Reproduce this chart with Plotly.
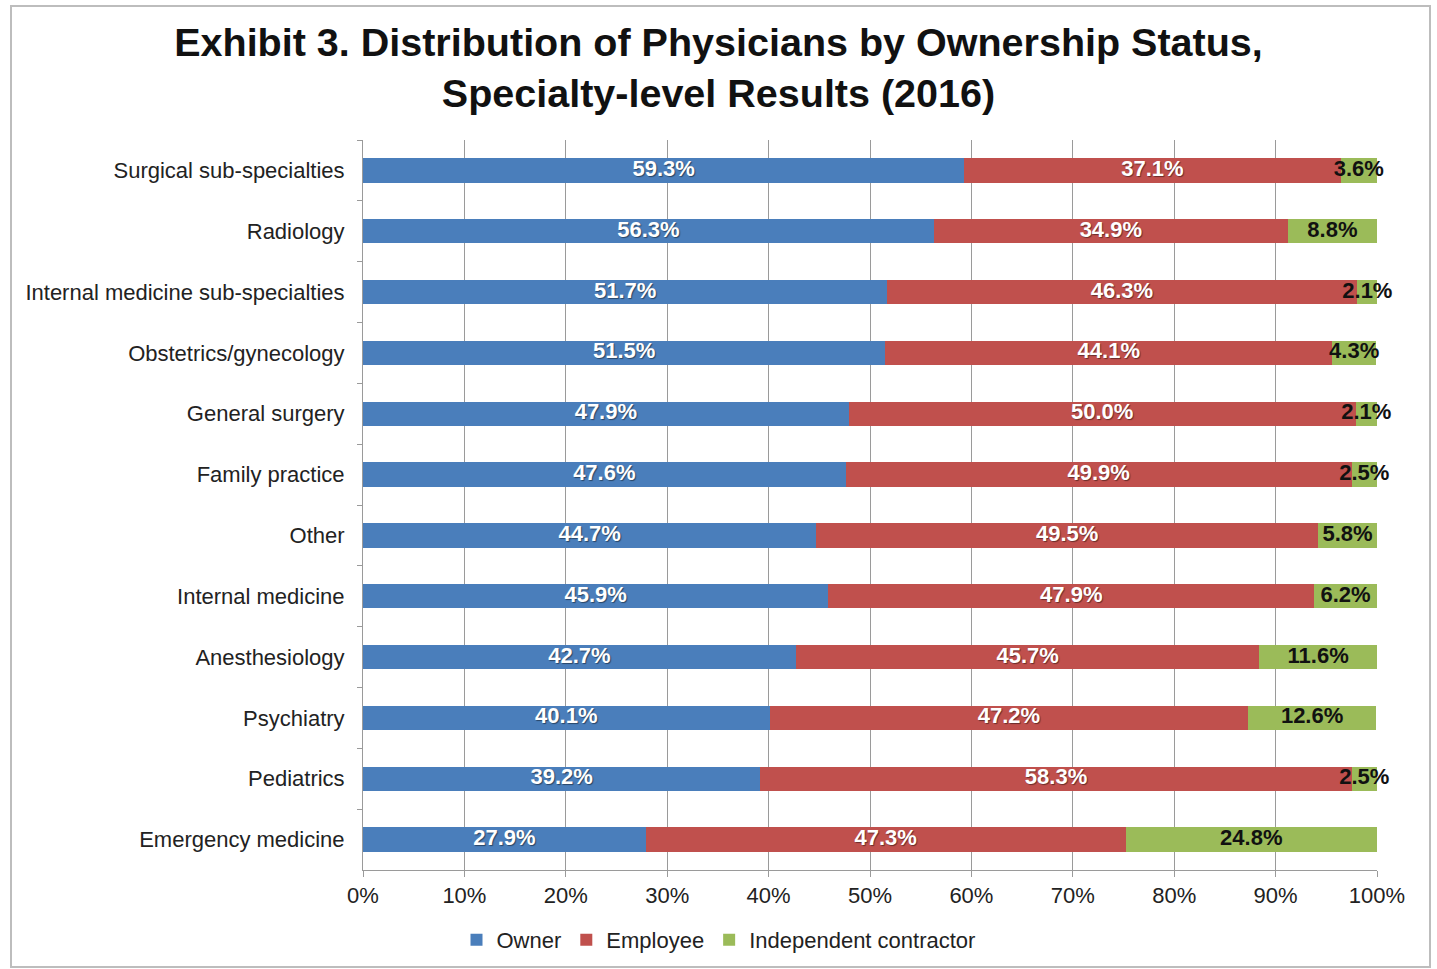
import plotly.graph_objects as go

# Specialties, listed top to bottom
specialties = [
    "Surgical sub-specialties",
    "Radiology",
    "Internal medicine sub-specialties",
    "Obstetrics/gynecology",
    "General surgery",
    "Family practice",
    "Other",
    "Internal medicine",
    "Anesthesiology",
    "Psychiatry",
    "Pediatrics",
    "Emergency medicine",
]

# Share of physicians (%) by ownership status
owner = [59.3, 56.3, 51.7, 51.5, 47.9, 47.6, 44.7, 45.9, 42.7, 40.1, 39.2, 27.9]
employee = [37.1, 34.9, 46.3, 44.1, 50.0, 49.9, 49.5, 47.9, 45.7, 47.2, 58.3, 47.3]
contractor = [3.6, 8.8, 2.1, 4.3, 2.1, 2.5, 5.8, 6.2, 11.6, 12.6, 2.5, 24.8]

x_ticks = [0, 10, 20, 30, 40, 50, 60, 70, 80, 90, 100]
x_tick_labels = [f"{v}%" for v in x_ticks]

FONT = "Liberation Sans, Arial, sans-serif"
BLUE = "#4a7ebb"
RED = "#c0504d"
GREEN = "#9bbb59"

series = [
    ("Owner", owner, BLUE, "white", "1px 1px 1px rgba(0,0,0,0.45)"),
    ("Employee", employee, RED, "white", "1px 1px 1px rgba(0,0,0,0.45)"),
    ("Independent contractor", contractor, GREEN, "#111111", "none"),
]

fig = go.Figure()

# Stacked bars
for name, vals, color, _, _ in series:
    fig.add_trace(
        go.Bar(
            name=name,
            y=specialties,
            x=vals,
            orientation="h",
            marker=dict(color=color, line=dict(width=0)),
            width=0.4,
            hoverinfo="skip",
        )
    )

# Value labels centred on each segment (segment start + half its length)
base = [0.0] * len(specialties)
for name, vals, _, tcolor, shadow in series:
    centers = [b + v / 2 for b, v in zip(base, vals)]
    fig.add_trace(
        go.Scatter(
            x=centers,
            y=specialties,
            mode="text",
            text=[f"{v:.1f}%" for v in vals],
            textposition="middle center",
            textfont=dict(family=FONT, size=22, color=tcolor, weight="bold", shadow=shadow),
            cliponaxis=False,
            showlegend=False,
            hoverinfo="skip",
        )
    )
    base = [b + v for b, v in zip(base, vals)]

# Outer frame around the whole exhibit
L, R, T, B = 363, 60, 140, 99
W, H = 1437, 969
pw, ph = W - L - R, H - T - B
fig.add_shape(
    type="rect",
    xref="paper", yref="paper",
    x0=(11 - L) / pw, x1=(1430 - L) / pw,
    y0=-(967 - (H - B)) / ph, y1=((H - B) - 6) / ph,
    line=dict(color="#bdbdbd", width=2),
    fillcolor="rgba(0,0,0,0)",
    layer="below",
)

n = len(specialties)
fig.update_layout(
    width=W,
    height=H,
    margin=dict(l=L, r=R, t=T, b=B, autoexpand=False),
    barmode="stack",
    bargap=0.6,
    paper_bgcolor="white",
    plot_bgcolor="white",
    font=dict(family=FONT, color="#222222"),
    title=dict(
        text="Exhibit 3. Distribution of Physicians by Ownership Status,<br>Specialty-level Results (2016)",
        x=0.5, xref="container", xanchor="center",
        y=1 - 56 / H, yref="container", yanchor="middle",
        font=dict(family=FONT, size=39.5, color="#111111", weight="bold"),
    ),
    xaxis=dict(
        range=[0, 100],
        tickmode="array",
        tickvals=x_ticks,
        ticktext=x_tick_labels,
        showgrid=True,
        gridcolor="#9a9a9a",
        gridwidth=1,
        showline=True,
        linecolor="#9a9a9a",
        linewidth=1,
        ticks="outside",
        ticklen=6,
        tickcolor="#9a9a9a",
        tickfont=dict(family=FONT, size=22, color="#222222"),
        ticklabelstandoff=0,
        zeroline=False,
        fixedrange=True,
    ),
    yaxis=dict(
        categoryorder="array",
        categoryarray=specialties,
        range=[n - 0.5, -0.5],
        autorange=False,
        showline=True,
        linecolor="#9a9a9a",
        linewidth=1,
        ticks="outside",
        tickson="boundaries",
        ticklen=5,
        tickcolor="#9a9a9a",
        showgrid=False,
        tickfont=dict(family=FONT, size=22, color="#222222"),
        ticklabelstandoff=13,
        fixedrange=True,
    ),
    legend=dict(
        orientation="h",
        xref="container", x=0.5, xanchor="center",
        yref="container", y=1 - 940 / H, yanchor="middle",
        font=dict(family=FONT, size=22, color="#222222"),
        traceorder="normal",
        itemwidth=30,
    ),
    showlegend=True,
)

fig.write_html("out.html")
